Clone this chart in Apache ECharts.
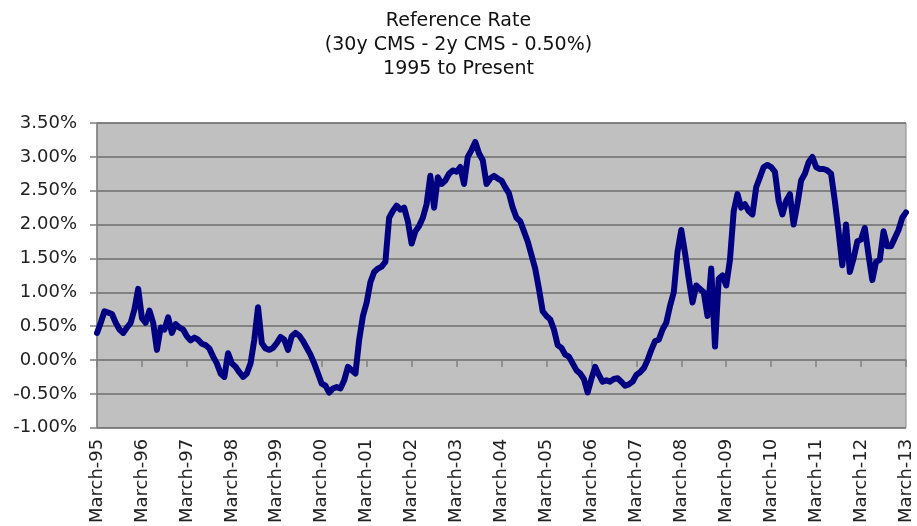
<!DOCTYPE html>
<html>
<head>
<meta charset="utf-8">
<script src="https://cdn.jsdelivr.net/npm/echarts@6/dist/echarts.min.js"></script>
<style>
html,body{margin:0;padding:0;background:#fff;}
#chart{width:917px;height:526px;}
</style>
</head>
<body>
<div id="chart"></div>
<script>
// Title lines
const titleLines = ['Reference Rate', '(30y CMS - 2y CMS - 0.50%)', '1995 to Present'];

// Monthly observations, March 1995 .. March 2013
const startYear = 1995, startMonth = 3;
const values = [
  // Mar-95 .. Feb-96
  0.40, 0.55, 0.72, 0.70, 0.68, 0.55, 0.45, 0.40, 0.48, 0.55, 0.75, 1.05,
  // Mar-96 .. Feb-97
  0.62, 0.55, 0.73, 0.55, 0.15, 0.48, 0.45, 0.63, 0.40, 0.53, 0.48, 0.45,
  // Mar-97 .. Feb-98
  0.35, 0.29, 0.33, 0.30, 0.24, 0.22, 0.17, 0.05, -0.05, -0.20, -0.25, 0.10,
  // Mar-98 .. Feb-99
  -0.05, -0.10, -0.18, -0.25, -0.20, -0.05, 0.30, 0.78, 0.25, 0.17, 0.15, 0.18,
  // Mar-99 .. Feb-00
  0.25, 0.34, 0.30, 0.15, 0.35, 0.40, 0.36, 0.28, 0.18, 0.08, -0.05, -0.20,
  // Mar-00 .. Feb-01
  -0.35, -0.38, -0.48, -0.42, -0.40, -0.42, -0.30, -0.10, -0.15, -0.20, 0.30, 0.65,
  // Mar-01 .. Feb-02
  0.85, 1.15, 1.30, 1.35, 1.38, 1.45, 2.10, 2.20, 2.28, 2.22, 2.25, 2.05,
  // Mar-02 .. Feb-03
  1.72, 1.90, 1.98, 2.10, 2.30, 2.72, 2.25, 2.70, 2.60, 2.65, 2.75, 2.80,
  // Mar-03 .. Feb-04
  2.78, 2.85, 2.60, 3.00, 3.10, 3.22, 3.05, 2.95, 2.60, 2.68, 2.72, 2.68,
  // Mar-04 .. Feb-05
  2.65, 2.55, 2.46, 2.25, 2.10, 2.05, 1.90, 1.75, 1.55, 1.35, 1.05, 0.72,
  // Mar-05 .. Feb-06
  0.65, 0.60, 0.45, 0.22, 0.18, 0.08, 0.05, -0.05, -0.15, -0.20, -0.28, -0.48,
  // Mar-06 .. Feb-07
  -0.28, -0.10, -0.22, -0.32, -0.30, -0.32, -0.28, -0.27, -0.32, -0.38, -0.36, -0.32,
  // Mar-07 .. Feb-08
  -0.22, -0.18, -0.12, 0.00, 0.15, 0.28, 0.30, 0.45, 0.55, 0.80, 1.00, 1.60,
  // Mar-08 .. Feb-09
  1.92, 1.58, 1.20, 0.85, 1.10, 1.05, 1.00, 0.65, 1.35, 0.20, 1.20, 1.25,
  // Mar-09 .. Feb-10
  1.10, 1.48, 2.20, 2.45, 2.25, 2.30, 2.20, 2.15, 2.55, 2.70, 2.85, 2.88,
  // Mar-10 .. Feb-11
  2.85, 2.78, 2.35, 2.15, 2.35, 2.45, 2.00, 2.30, 2.65, 2.75, 2.92, 3.00,
  // Mar-11 .. Feb-12
  2.85, 2.82, 2.82, 2.80, 2.75, 2.35, 1.90, 1.40, 2.00, 1.30, 1.50, 1.75,
  // Mar-12 .. Mar-13
  1.78, 1.95, 1.55, 1.18, 1.45, 1.48, 1.90, 1.68, 1.68, 1.80, 1.92, 2.10, 2.18
];

// Axis settings / tick labels
const yTicks = [-1.00, -0.50, 0.00, 0.50, 1.00, 1.50, 2.00, 2.50, 3.00, 3.50];
const xTickLabels = ['March-95','March-96','March-97','March-98','March-99','March-00','March-01',
  'March-02','March-03','March-04','March-05','March-06','March-07','March-08','March-09',
  'March-10','March-11','March-12','March-13'];

// Category list (one per month)
const months = values.map((_, i) => {
  const total = (startMonth - 1) + i;
  const y = startYear + Math.floor(total / 12);
  const m = (total % 12) + 1;
  return y + '-' + (m < 10 ? '0' + m : m);
});

const FONT = 'DejaVu Sans';
const chart = echarts.init(document.getElementById('chart'));
chart.setOption({
  animation: false,
  backgroundColor: '#ffffff',
  title: {
    text: titleLines.join('\n'),
    left: 'center',
    top: 4,
    textStyle: { fontFamily: FONT, fontSize: 19, fontWeight: 'normal', color: '#111', lineHeight: 24 }
  },
  grid: {
    left: 97, right: 11, top: 123, bottom: 98,
    show: true, backgroundColor: '#C0C0C0', borderColor: '#8a8a8a', borderWidth: 1
  },
  xAxis: {
    type: 'category',
    data: months,
    boundaryGap: false,
    axisLine: { show: true, lineStyle: { color: '#808080', width: 1.5 } },
    axisTick: { show: true, length: 7, interval: (i) => i % 12 === 0, lineStyle: { color: '#808080', width: 1.5 } },
    axisLabel: {
      interval: (i) => i % 12 === 0,
      rotate: 90,
      margin: 11,
      fontFamily: FONT, fontSize: 18, color: '#222',
      formatter: (val, idx) => xTickLabels[Math.round(idx / 12)]
    },
    splitLine: { show: false }
  },
  yAxis: {
    type: 'value',
    min: yTicks[0],
    max: yTicks[yTicks.length - 1],
    interval: 0.5,
    axisLine: { show: true, lineStyle: { color: '#808080', width: 1.5 } },
    axisTick: { show: true, length: 7, lineStyle: { color: '#808080', width: 1.5 } },
    axisLabel: {
      margin: 20,
      fontFamily: FONT, fontSize: 18, color: '#222',
      formatter: (v) => v.toFixed(2) + '%'
    },
    splitLine: { show: true, lineStyle: { color: '#6e6e6e', width: 1.5 } }
  },
  series: [{
    type: 'line',
    data: values,
    symbol: 'none',
    lineStyle: { color: '#000080', width: 6, join: 'round', cap: 'round' },
    z: 3
  }]
});
</script>
</body>
</html>
